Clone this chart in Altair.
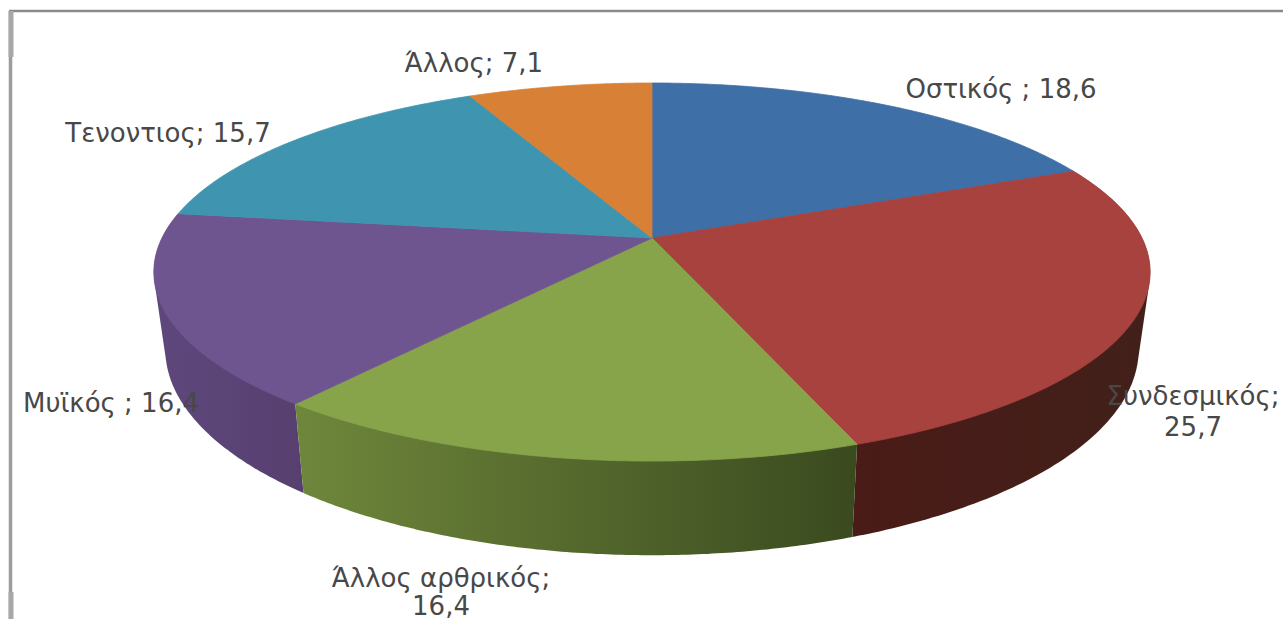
import numpy as np
import altair as alt

# Share of each injury type, clockwise from twelve o'clock
names = ["Οστικός ", "Συνδεσμικός", "Άλλος αρθρικός", "Μυϊκός ", "Τενοντιος", "Άλλος"]
values = [18.6, 25.7, 16.4, 16.4, 15.7, 7.1]
separators = ["; ", ";\n", ";\n", "; ", "; ", "; "]
face_colors = ["#3E6FA6", "#A8423F", "#87A44B", "#6F5590", "#3F95AF", "#D88035"]

# Tilted-disc model: perspective foreshortening of the circular pie
APEX = [652, 238]
RX, RY, TILT = 490.0, 182.9, -0.18
# Rim of the base relative to the rim of the top face
BASE_SX, BASE_SY, BASE_DY = 0.977, 1.09, 74.1


def rim(theta):
    u, v = np.sin(theta), -np.cos(theta)
    d = 1 + TILT * v
    return RX * u / d, RY * v / d


def base_rim(theta):
    x, y = rim(theta)
    return BASE_SX * x, BASE_SY * y + BASE_DY


def polygon(points):
    ring = [[float(a), float(b)] for a, b in points]
    ring.append(ring[0])
    return {"type": "Polygon", "coordinates": [ring]}


def convex_hull(points):
    # Monotone chain; keeps the wall outline tangent to both rims
    pts = sorted(set(points))

    def half(seq):
        out = []
        for p in seq:
            while len(out) > 1 and (
                (out[-1][0] - out[-2][0]) * (p[1] - out[-2][1])
                - (out[-1][1] - out[-2][1]) * (p[0] - out[-2][0])
            ) <= 0:
                out.pop()
            out.append(p)
        return out[:-1]

    return half(pts) + half(pts[::-1])


edges = np.cumsum([0] + values) / sum(values) * 2 * np.pi
faces, walls = [], {}
for i, name in enumerate(names):
    t = np.linspace(edges[i], edges[i + 1], 120)
    x, y = rim(t)
    faces.append({
        "type": "Feature",
        "properties": {"name": name},
        "geometry": polygon([(0.0, 0.0)] + list(zip(x, y))),
    })
    bx, by = base_rim(t)
    outline = convex_hull(list(zip(x.tolist(), y.tolist())) + list(zip(bx.tolist(), by.tolist())))
    walls[name] = {
        "type": "Feature",
        "properties": {"name": name},
        "geometry": polygon(outline),
    }


def wall_layer(name, fill):
    return alt.Chart(alt.Data(values=[walls[name]])).mark_geoshape(
        fill=fill, strokeWidth=0
    ).project(type="identity", scale=1, translate=APEX)


def side_gradient(left, right):
    return alt.LinearGradient(
        gradient="linear", x1=0, x2=1, y1=0, y2=0,
        stops=[alt.GradientStop(color=left, offset=0),
               alt.GradientStop(color=right, offset=1)],
    )


wall_layers = [
    wall_layer(names[1], side_gradient("#4A1B17", "#42201A")),
    wall_layer(names[3], side_gradient("#5E477C", "#57406F")),
    wall_layer(names[2], side_gradient("#6F873B", "#3A4A1F")),
]

slice_scale = alt.Scale(domain=names, range=face_colors)
top_faces = alt.Chart(alt.Data(values=faces)).mark_geoshape(
    strokeWidth=0.8
).encode(
    color=alt.Color("properties.name:N", legend=None, scale=slice_scale),
    stroke=alt.Stroke("properties.name:N", legend=None, scale=slice_scale),
).project(type="identity", scale=1, translate=APEX)


def frame_rule(color, width, **ends):
    return alt.Chart(alt.Data(values=[{}])).mark_rule(
        color=color, strokeWidth=width
    ).encode(**{k: alt.value(v) for k, v in ends.items()})


frame = [
    frame_rule("#8A8A8A", 2.5, x=9, x2=1283, y=11),
    frame_rule("#9C9C9C", 3.5, x=10.5, y=11, y2=619),
    frame_rule("#A8A8A8", 5, x=11, y=11, y2=57),
    frame_rule("#A8A8A8", 5, x=11, y=592, y2=619),
]


def value_label(i, x, y, line_height=30):
    text = f"{names[i]}{separators[i]}{values[i]:.1f}".replace(".", ",")
    return alt.Chart(alt.Data(values=[{"label": text}])).mark_text(
        font="DejaVu Sans", fontSize=26, color="#484848", align="center",
        baseline="alphabetic", lineBreak="\n", lineHeight=line_height,
    ).encode(text="label:N", x=alt.value(x), y=alt.value(y))


labels = [
    value_label(0, 1001, 98),
    value_label(1, 1193, 405, 31),
    value_label(2, 441, 587, 28),
    value_label(3, 111, 412),
    value_label(4, 168, 142),
    value_label(5, 474, 72),
]

chart = alt.layer(*frame, *wall_layers, top_faces, *labels).properties(
    width=1283, height=619, padding=0, background="white",
    autosize=alt.AutoSizeParams(type="none"),
).configure_view(stroke=None)

chart.save("out.html", embed_options={"renderer": "svg", "actions": False})
